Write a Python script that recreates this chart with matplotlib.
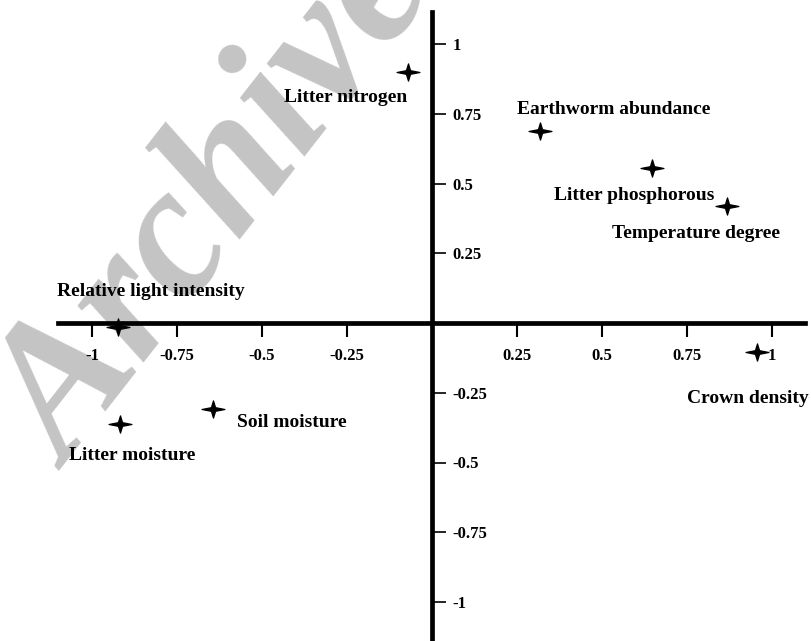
import matplotlib
matplotlib.use('Agg')
from matplotlib import pyplot as plt
from matplotlib.path import Path

# loadings of the variables on the two axes
names = ['Litter nitrogen', 'Earthworm abundance', 'Litter phosphorous', 'Temperature degree',
         'Crown density', 'Relative light intensity', 'Soil moisture', 'Litter moisture']
x_vals = [-0.071, 0.318, 0.647, 0.868, 0.956, -0.924, -0.644, -0.918]
y_vals = [0.900, 0.688, 0.556, 0.419, -0.104, -0.014, -0.308, -0.362]

x_ticks = [-1, -0.75, -0.5, -0.25, 0.25, 0.5, 0.75, 1]
x_ticklabels = ['-1', '-0.75', '-0.5', '-0.25', '0.25', '0.5', '0.75', '1']
y_ticks = [-1, -0.75, -0.5, -0.25, 0.25, 0.5, 0.75, 1]
y_ticklabels = ['-1', '-0.75', '-0.5', '-0.25', '0.25', '0.5', '0.75', '1']

# label offsets from the point, in pixels
offsets = [(-62, -26), (74, 22), (-18, -28), (-31, -27), (-9, -46), (33, 35), (79, -14), (12, -32)]

plt.rcParams['font.family'] = ['Liberation Serif', 'DejaVu Serif']
plt.rcParams['font.weight'] = 'bold'

fig = plt.figure(figsize=(8.11, 6.41), dpi=100)
ax = fig.add_axes([0, 0, 1, 1])
ax.patch.set_alpha(0)
ax.set_xlim(-432 / 340, 379 / 340)
ax.set_ylim(-318 / 279, 323 / 279)

# watermark
ax.text(0.27, 0.68, 'Archive', transform=fig.transFigure, fontsize=135, color='#c4c4c4',
        style='italic', weight='bold', rotation=52, ha='center', va='center',
        rotation_mode='anchor', zorder=0.5)

ax.spines['top'].set_visible(False)
ax.spines['left'].set_visible(False)
ax.spines['bottom'].set_position(('data', 0))
ax.spines['right'].set_position(('data', 0))
ax.spines['bottom'].set_bounds(-1.1, 1.097)
ax.spines['right'].set_bounds(-1.2, 1.115)
for s in ['bottom', 'right']:
    ax.spines[s].set_linewidth(3.4)
    ax.spines[s].set_zorder(2)

ax.yaxis.tick_right()
ax.xaxis.tick_bottom()
ax.set_xticks(x_ticks)
ax.set_xticklabels(x_ticklabels)
ax.set_yticks(y_ticks)
ax.set_yticklabels(y_ticklabels)
ax.tick_params(axis='x', direction='out', length=10, width=1.5, pad=8, labelsize=12)
ax.tick_params(axis='y', direction='out', length=10, width=1.2, pad=5, labelsize=12)

star = Path([(1, 0), (0.18, 0.16), (0, 0.75), (-0.18, 0.16), (-1, 0),
             (-0.18, -0.16), (0, -0.75), (0.18, -0.16), (1, 0)],
            [Path.MOVETO] + [Path.LINETO] * 7 + [Path.CLOSEPOLY])
ax.plot(x_vals, y_vals, linestyle='none', marker=star, markersize=16.5,
        color='black', markeredgewidth=0.9, zorder=3)

for name, x, y, off in zip(names, x_vals, y_vals, offsets):
    ax.annotate(name, (x, y), xytext=off, textcoords='offset pixels',
                ha='center', va='center', fontsize=14, fontweight='bold', zorder=4)

fig.savefig('out.png', dpi=100)
